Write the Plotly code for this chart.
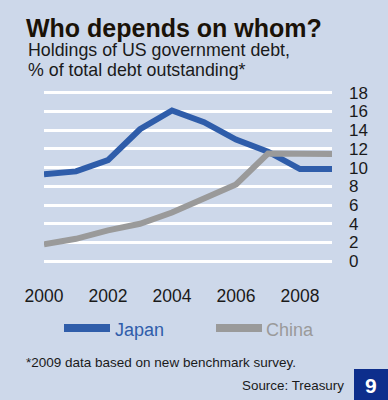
import plotly.graph_objects as go

years = [2000, 2001, 2002, 2003, 2004, 2005, 2006, 2007, 2008, 2009]
japan = [9.3, 9.6, 10.8, 14.1, 16.1, 14.85, 13.0, 11.7, 9.85, 9.85]
china = [1.8, 2.4, 3.3, 4.0, 5.2, 6.7, 8.2, 11.5, 11.4, 11.45]
x_ticks = [2000, 2002, 2004, 2006, 2008]
y_ticks = [0, 2, 4, 6, 8, 10, 12, 14, 16, 18]

BG = "#cdd8ea"
BLUE = "#2f5daa"
GRAY = "#9a9a9a"
FONT = "Liberation Sans, Arial, sans-serif"

W, H = 388, 400
ML, MR, MT, MB = 44, 56, 89, 135
PW = W - ML - MR
PH = H - MT - MB


def px(x):
    return (x - ML) / PW


def py(y):
    return (H - MB - y) / PH


fig = go.Figure()
fig.add_trace(go.Scatter(x=years, y=japan, mode="lines", name="Japan",
                         line=dict(color=BLUE, width=6)))
fig.add_trace(go.Scatter(x=years, y=china, mode="lines", name="China",
                         line=dict(color=GRAY, width=6)))

shapes = [
    dict(type="line", xref="paper", yref="paper", x0=px(64), x1=px(110), y0=py(328), y1=py(328),
         line=dict(color=BLUE, width=8)),
    dict(type="line", xref="paper", yref="paper", x0=px(216), x1=px(262), y0=py(328), y1=py(328),
         line=dict(color=GRAY, width=8)),
    dict(type="rect", xref="paper", yref="paper", x0=px(354), x1=px(390), y0=py(369), y1=py(402),
         fillcolor="#0d2e8c", line=dict(width=0)),
]

annotations = [
    dict(text="<b>Who depends on whom?</b>", x=px(24), y=py(28), xanchor="left", yanchor="middle",
         font=dict(size=25, color="#1a1208", family=FONT)),
    dict(text="Holdings of US government debt,", x=px(26), y=py(50), xanchor="left", yanchor="middle",
         font=dict(size=17.8, color="#1a1a1a", family=FONT)),
    dict(text="% of total debt outstanding*", x=px(26), y=py(70), xanchor="left", yanchor="middle",
         font=dict(size=17.8, color="#1a1a1a", family=FONT)),
    dict(text="Japan", x=px(113), y=py(330), xanchor="left", yanchor="middle",
         font=dict(size=18, color=BLUE, family=FONT)),
    dict(text="China", x=px(264), y=py(330), xanchor="left", yanchor="middle",
         font=dict(size=18, color=GRAY, family=FONT)),
    dict(text="*2009 data based on new benchmark survey.", x=px(24), y=py(362), xanchor="left",
         yanchor="middle", font=dict(size=13.5, color="#1a1a1a", family=FONT)),
    dict(text="Source: Treasury", x=px(346), y=py(385), xanchor="right", yanchor="middle",
         font=dict(size=13.4, color="#1a1a1a", family=FONT)),
    dict(text="<b>9</b>", x=px(371), y=py(385), xanchor="center", yanchor="middle",
         font=dict(size=21, color="white", family=FONT)),
]
for a in annotations:
    a.update(xref="paper", yref="paper", showarrow=False)

fig.update_layout(
    width=W, height=H,
    margin=dict(l=ML, r=MR, t=MT, b=MB, pad=0),
    paper_bgcolor=BG, plot_bgcolor=BG,
    showlegend=False,
    shapes=shapes,
    annotations=annotations,
    xaxis=dict(range=[2000, 2009], tickvals=x_ticks, ticktext=[str(v) for v in x_ticks],
               showgrid=False, zeroline=False, showline=False, ticks="",
               ticklabelstandoff=18,
               tickfont=dict(size=17.5, color="#1a1a1a", family=FONT)),
    yaxis=dict(range=[-0.4, 18.4], tickvals=y_ticks, side="right",
               showgrid=True, gridcolor="white", gridwidth=3, zeroline=False,
               showline=False, ticks="", ticklabelstandoff=16,
               tickfont=dict(size=17, color="#1a1a1a", family=FONT)),
)

fig.write_html("out.html", config={"displayModeBar": False},
               post_script="document.body.style.margin='0';")
